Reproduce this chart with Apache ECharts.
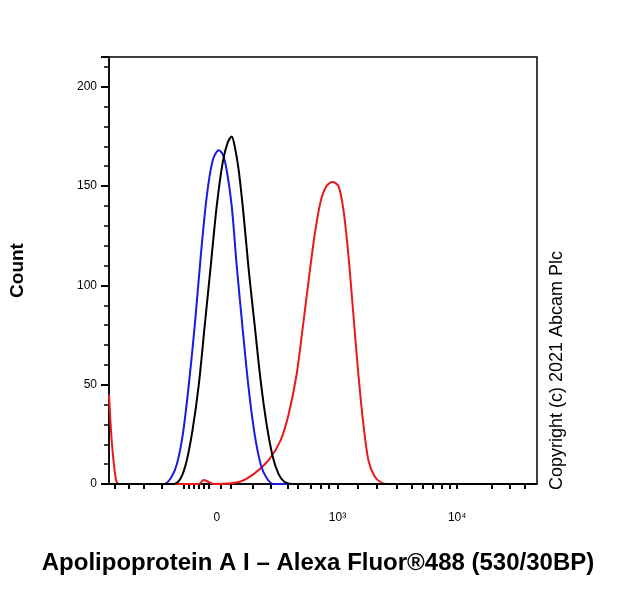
<!DOCTYPE html>
<html><head><meta charset="utf-8">
<script src="https://cdn.jsdelivr.net/npm/echarts@6/dist/echarts.min.js"></script>
<style>body{margin:0;background:#fff}#c{width:620px;height:600px}</style>
</head><body><div id="c"></div>
<script>
// x in display channel units (0..429 across the plot)
var blueX = [0, 55, 62, 68, 74, 80, 86, 92, 98, 104, 110, 114, 118, 123, 128, 134, 140, 146, 152, 158, 165, 172, 429];
var blueY = [0, 0, 3, 10, 25, 50, 80, 115, 145, 163, 168, 166, 158, 140, 110, 78, 48, 25, 10, 3, 0, 0, 0];
var blackX = [0, 65, 72, 78, 84, 90, 96, 102, 108, 114, 119, 123, 126, 130, 135, 140, 146, 152, 158, 164, 170, 176, 184, 429];
var blackY = [0, 0, 3, 12, 28, 50, 80, 110, 140, 162, 172, 175, 170, 158, 135, 108, 80, 52, 30, 14, 5, 1, 0, 0];
var redX = [0, 3, 7, 10, 90, 95, 100, 105, 130, 145, 160, 172, 180, 188, 194, 200, 206, 212, 218, 224, 230, 235, 240, 245, 250, 255, 260, 266, 272, 279, 429];
var redY = [45, 20, 2, 0, 0, 2, 1, 0, 1, 5, 12, 22, 35, 55, 78, 102, 125, 142, 150, 152, 150, 138, 115, 85, 55, 30, 12, 4, 1, 0, 0];
var majorTicks = [108, 229, 349];
var majorLabels = ['0', '10³', '10⁴'];
var minorTicks = [6, 20, 35, 53, 75, 80, 85, 90, 95, 100, 112, 122, 144, 162, 179, 189, 202, 212, 220, 229, 249, 268, 288, 303, 314, 325, 334, 342, 349, 384, 402, 417];

function pairs(xs, ys) { return xs.map(function (x, i) { return [x, ys[i]]; }); }

var chart = echarts.init(document.getElementById('c'));
var font = 'Liberation Sans, Arial, sans-serif';
chart.setOption({
  animation: false,
  grid: { left: 108, right: 83, top: 57, bottom: 116, show: true, borderColor: '#000', borderWidth: 1.5 },
  xAxis: {
    type: 'value', min: 0, max: 429,
    axisLine: { lineStyle: { color: '#000', width: 1.5 } },
    axisTick: { customValues: minorTicks, length: 5, inside: false, lineStyle: { color: '#000', width: 2 } },
    axisLabel: {
      customValues: majorTicks, margin: 28, color: '#000', fontFamily: font, fontSize: 12,
      formatter: function (v) { return majorLabels[majorTicks.indexOf(v)] || ''; }
    },
    splitLine: { show: false },
    name: 'Apolipoprotein A I – Alexa Fluor®488 (530/30BP)', nameLocation: 'middle', nameGap: 67,
    nameTextStyle: { fontFamily: font, fontWeight: 'bold', fontSize: 24, color: '#000', padding: [0, 10, 0, 0] }
  },
  yAxis: {
    type: 'value', min: 0, max: 215, interval: 50,
    axisLine: { show: true, lineStyle: { color: '#000', width: 1.5 } },
    axisTick: { length: 8, lineStyle: { color: '#000', width: 2 } },
    minorTick: { show: true, splitNumber: 5, length: 5, lineStyle: { color: '#000', width: 1.5 } },
    axisLabel: { color: '#000', fontFamily: font, fontSize: 12, margin: 12, showMaxLabel: false },
    splitLine: { show: false },
    name: 'Count', nameLocation: 'middle', nameGap: 82, nameRotate: 90,
    nameTextStyle: { fontFamily: font, fontWeight: 'bold', fontSize: 19, color: '#000' }
  },
  graphic: [{
    type: 'text', left: 548, top: 251, rotation: Math.PI / 2,
    style: { text: 'Copyright (c) 2021 Abcam Plc', font: '18px ' + font, fill: '#000' }
  }],
  series: [
    { type: 'line', data: pairs(redX, redY), smooth: 0.3, symbol: 'none', lineStyle: { color: '#e8191c', width: 2 } },
    { type: 'line', data: pairs(blueX, blueY), smooth: 0.3, symbol: 'none', lineStyle: { color: '#1a1ae0', width: 2 } },
    { type: 'line', data: pairs(blackX, blackY), smooth: 0.3, symbol: 'none', lineStyle: { color: '#000', width: 2 } }
  ]
});
</script></body></html>
